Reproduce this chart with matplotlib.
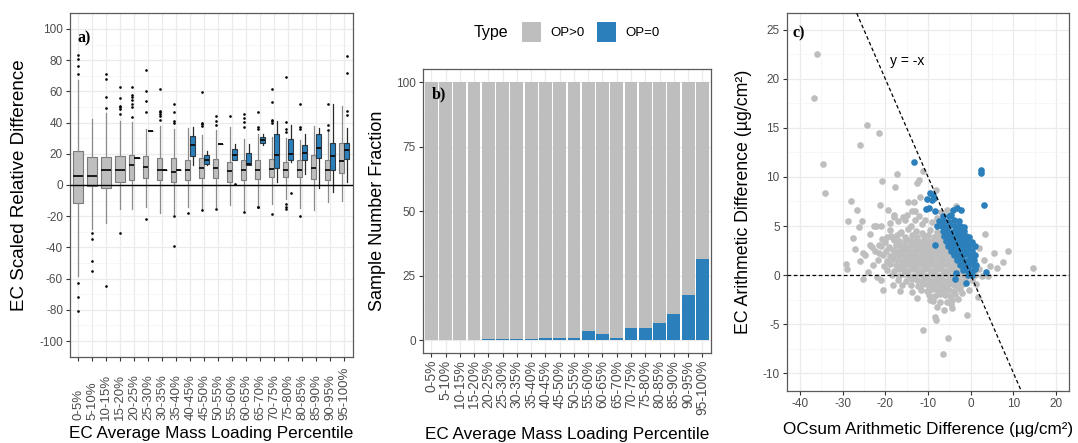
import matplotlib
matplotlib.use('Agg')
import matplotlib.pyplot as plt
from matplotlib.patches import Rectangle

plt.rcParams['font.family'] = ['Liberation Sans', 'DejaVu Sans']
plt.rcParams['axes.unicode_minus'] = False

GRAY = '#BEBEBE'
BLUE = '#2B80BB'

# percentile bins (shared by panels a and b)
bins = ['0-5%', '5-10%', '10-15%', '15-20%', '20-25%', '25-30%', '30-35%',
        '35-40%', '40-45%', '45-50%', '50-55%', '55-60%', '60-65%', '65-70%',
        '70-75%', '75-80%', '80-85%', '85-90%', '90-95%', '95-100%']

# panel a, OP>0 boxes: q1, median, q3, lower whisker, upper whisker
gray_q1 = [-11.3, -0.8, -2.0, 1.8, 2.9, 4.4, 3.3, 2.2, 3.4, 4.3,
           4.3, 1.7, 3.4, 3.9, 4.9, 4.9, 4.9, 3.9, 3.2, 7.5]
gray_med = [6.0, 5.6, 9.7, 9.7, 12.7, 11.4, 9.7, 8.5, 9.7, 11.2,
            11.0, 8.8, 9.7, 9.9, 10.3, 9.9, 9.9, 10.8, 9.7, 15.2]
gray_q3 = [22.0, 18.0, 18.0, 18.3, 19.4, 18.6, 17.6, 17.0, 16.3, 17.4,
           16.6, 14.6, 16.1, 15.7, 16.8, 14.6, 16.1, 19.4, 16.1, 27.0]
gray_lo = [-58.0, -28.0, -24.5, -15.3, -15.3, -14.2, -17.8, -18.5, -14.4, -15.5,
           -14.4, -13.0, -16.2, -13.0, -12.0, -9.0, -15.0, -16.0, -11.2, -10.1]
gray_hi = [67.0, 42.5, 46.0, 41.0, 40.2, 36.0, 38.0, 36.0, 36.6, 31.8,
           35.0, 37.2, 29.7, 32.9, 30.8, 30.0, 28.6, 38.0, 34.0, 50.5]
gray_out = [[83, 81, 76, 71, -63, -71.5, -81],
            [-30.5, -34.5, -48.5, -55],
            [71, 68, 56.6, 49.5, -64.6],
            [62.6, 55.5, 50.5, 49.7, 48.4, 45.4, -30.6],
            [62.6, 57.6, 56.6, 54.4, 51.8, 49.7, 43.4],
            [73.8, 60.2, 54, 46.5, -21.9],
            [61.3, 47.5, 46.9, 45.8, 44.1, 41.9],
            [51.6, 46.9, 40.9, 39.4, -19.8, -39.4],
            [-17.7],
            [59.8, 39.8, 38.9, 37.6, -15.9],
            [44.5, 41, 38.3, -15.5],
            [44.3],
            [45.8, 43.2, 40.4, 37.2, -17.2],
            [46.9, 37.2, 36.1, -14, -14.4],
            [61.3, 53.3, 41.9, 41, 39.8, -18.3],
            [69.5, 40.4, 36.1, 34, -12.3, -14.4, -15.1],
            [51.8, 37.2, 36.1, -19.8],
            [],
            [51.6, 38.3, 35.5],
            []]

# panel a, OP=0 boxes (bins 20-25% .. 95-100%)
blue_q1 = [17.6, 34.6, 9.7, 9.5, 18.7, 13.5, 26.5, 16.1, 12.5, 26.9, 11.0, 15.7, 15.7, 17.2, 9.7, 16.8]
blue_med = [17.6, 34.6, 9.7, 9.5, 25.4, 16.1, 26.5, 18.9, 13.5, 28.6, 19.4, 20.0, 20.6, 23.6, 18.5, 22.6]
blue_q3 = [17.6, 34.6, 9.7, 9.5, 31.4, 18.9, 26.5, 23.2, 20.4, 30.8, 32.4, 29.7, 25.4, 32.4, 26.8, 27.1]
blue_lo = [17.6, 34.6, 9.7, 9.5, 12.5, 12.5, 26.5, 16.1, 12.5, 25.8, 1.7, 15.0, 7.1, -2.2, -4.8, 1.7]
blue_hi = [17.6, 34.6, 9.7, 9.5, 37.2, 21.7, 26.5, 26.0, 26.5, 32.5, 41.0, 38.3, 32.5, 36.8, 51.6, 36.8]
blue_out = [[], [], [], [], [], [], [], [0.6], [], [], [], [-5.4], [], [], [], [82.8, 72, 47.5, 44.7]]

# panel b, percent of samples with OP=0
frac_op0 = [0, 0, 0, 0, 0.5, 0.5, 0.5, 0.5, 1.0, 1.0,
            1.0, 3.4, 2.4, 1.0, 4.8, 4.8, 6.7, 10.2, 17.5, 31.3]
frac_pos = [100 - v for v in frac_op0]

# panel c, (OCsum difference, EC difference) points
pts_pos = [
    (-36.7, 18.1), (-36.1, 22.5), (-34.7, 11.3), (-34.1, 8.4), (-24.2, 15.3), (-21.6, 14.5),
    (-25.9, 13.3), (-20.8, 9.6), (-17.3, 10.3), (-17.7, 9.0), (-28.0, 7.6), (-26.6, 6.6),
    (-21.2, 7.1), (-19.4, 6.6), (-14.6, 7.4), (-13.4, 7.4), (-12.7, 9.4), (-12.2, 9.7),
    (-11.2, 10.6), (-11.9, 8.0), (-8.1, 8.7), (-3.4, 7.0), (-13.7, 6.5), (-13.1, 6.5),
    (-18.0, 6.1), (-28.8, 5.5), (-25.5, 5.5), (-26.2, 4.9), (-27.6, 3.8), (-29.2, 1.1),
    (-28.9, 0.6), (-25.2, 2.2), (-24.7, 2.0), (-25.2, -0.4), (-23.2, 2.9), (-23.6, 3.1),
    (-22.7, 5.0), (-22.1, 5.0), (-21.1, 5.0), (-20.5, -1.5), (-21.1, -0.5), (-21.6, 3.1),
    (-20.9, 3.7), (-19.7, 3.9), (-18.3, -1.0), (-18.0, 5.9), (-15.8, 5.9), (-15.5, 5.6),
    (-15.0, 6.1), (-14.1, 5.0), (-16.6, 4.3), (-18.3, 3.8), (-14.0, -1.0), (-11.2, -5.6),
    (-8.9, -2.7), (-7.2, -2.8), (-8.4, -4.3), (-8.2, -4.6), (-5.4, -6.4), (-6.6, -8.1),
    (-0.8, -4.1), (-4.6, -3.0), (-4.3, -3.4), (-4.5, -2.5), (1.8, -2.2), (3.4, 4.2),
    (4.4, 0.9), (6.1, 0.7), (7.5, 1.3), (8.7, 2.4), (14.5, 0.7), (4.1, -0.1),
    (-10.8, 5.6), (-12.2, 6.0), (-9.0, 5.4), (-6.4, 6.1), (-5.5, 6.6), (-5.0, 5.2),
    (-3.8, 5.5), (-2.9, 4.8), (-2.0, 3.9), (-1.0, 3.2),
    (-27.0, 2.7), (-26.0, 1.4), (-24.0, 0.3), (-23.5, 4.2), (-22.0, -0.2), (-21.5, 2.2),
    (-19.0, 5.3), (-17.0, 5.5), (-13.0, 5.6), (-11.5, 5.2), (-8.0, 5.8), (-7.0, 6.4),
    (-9.5, -2.6), (-7.8, -3.3), (-6.2, -3.6), (-5.6, -2.8), (-3.0, -2.4), (-2.0, -1.8),
    (-0.5, -1.5), (1.2, -0.9), (3.0, 1.5), (2.0, 2.8), (5.5, 2.2), (-16.5, -1.6),
    (-13.8, -1.7), (-12.7, -2.3),
    (-19.0, 4.6), (-16.4, 4.4), (-14.8, 4.7), (-12.9, 4.5), (-11.3, 4.3), (-9.6, 4.6),
    (-7.8, 4.4), (-6.1, 4.7),
    (-18.6, 4.0), (-17.2, 4.1), (-15.5, 3.9), (-13.8, 4.1), (-12.5, 3.9), (-11.0, 4.0),
    (-9.9, 4.1), (-8.7, 3.9), (-7.2, 4.0), (-5.5, 4.1), (-3.9, 3.8),
    (-20.1, 3.4), (-18.0, 3.6), (-16.7, 3.5), (-15.3, 3.4), (-14.2, 3.6), (-13.1, 3.5),
    (-12.0, 3.4), (-10.9, 3.6), (-9.8, 3.5), (-8.6, 3.4), (-7.5, 3.6), (-6.4, 3.5),
    (-5.2, 3.3), (-3.8, 3.6),
    (-21.0, 3.0), (-19.2, 2.9), (-17.6, 3.1), (-16.3, 3.0), (-15.2, 2.9), (-14.1, 3.1),
    (-13.0, 3.0), (-12.0, 2.9), (-11.0, 3.1), (-10.0, 3.0), (-9.0, 2.9), (-8.0, 3.1),
    (-7.0, 3.0), (-6.0, 2.9), (-4.9, 3.1), (-3.6, 2.9),
    (-22.4, 2.5), (-19.8, 2.4), (-18.3, 2.6), (-17.1, 2.5), (-16.0, 2.4), (-15.0, 2.6),
    (-14.0, 2.5), (-13.0, 2.4), (-12.0, 2.6), (-11.0, 2.5), (-10.0, 2.4), (-9.0, 2.6),
    (-8.0, 2.5), (-7.0, 2.4), (-6.0, 2.6), (-5.0, 2.5), (-4.0, 2.4), (-2.8, 2.6),
    (-20.6, 2.0), (-19.0, 1.9), (-17.8, 2.1), (-16.7, 2.0), (-15.6, 1.9), (-14.5, 2.1),
    (-13.5, 2.0), (-12.5, 1.9), (-11.5, 2.1), (-10.5, 2.0), (-9.5, 1.9), (-8.5, 2.1),
    (-7.5, 2.0), (-6.5, 1.9), (-5.5, 2.1), (-4.5, 2.0), (-3.5, 1.9), (-2.4, 2.1), (-1.2, 2.0),
    (-21.8, 1.5), (-19.5, 1.4), (-18.2, 1.6), (-17.1, 1.5), (-16.0, 1.4), (-15.0, 1.6),
    (-14.0, 1.5), (-13.0, 1.4), (-12.0, 1.6), (-11.0, 1.5), (-10.0, 1.4), (-9.0, 1.6),
    (-8.0, 1.5), (-7.0, 1.4), (-6.0, 1.6), (-5.0, 1.5), (-4.0, 1.4), (-3.0, 1.6),
    (-2.0, 1.5), (-0.8, 1.4),
    (-22.9, 1.0), (-20.2, 0.9), (-18.8, 1.1), (-17.5, 1.0), (-16.4, 0.9), (-15.4, 1.1),
    (-14.4, 1.0), (-13.4, 0.9), (-12.4, 1.1), (-11.4, 1.0), (-10.4, 0.9), (-9.4, 1.1),
    (-8.4, 1.0), (-7.4, 0.9), (-6.4, 1.1), (-5.4, 1.0), (-4.4, 0.9), (-3.4, 1.1),
    (-2.4, 1.0), (-1.4, 0.9), (-0.3, 1.1), (0.8, 1.0),
    (-19.6, 0.5), (-17.9, 0.4), (-16.7, 0.6), (-15.6, 0.5), (-14.6, 0.4), (-13.6, 0.6),
    (-12.6, 0.5), (-11.6, 0.4), (-10.6, 0.6), (-9.6, 0.5), (-8.6, 0.4), (-7.6, 0.6),
    (-6.6, 0.5), (-5.6, 0.4), (-4.6, 0.6), (-3.6, 0.5), (-2.6, 0.4), (-1.6, 0.6),
    (-0.5, 0.5), (0.6, 0.4), (2.0, 0.6),
    (-18.5, 0.0), (-16.9, -0.1), (-15.7, 0.1), (-14.6, 0.0), (-13.5, -0.1), (-12.4, 0.1),
    (-11.4, 0.0), (-10.4, -0.1), (-9.4, 0.1), (-8.4, 0.0), (-7.4, -0.1), (-6.4, 0.1),
    (-5.4, 0.0), (-4.4, -0.1), (-3.4, 0.1), (-2.4, 0.0), (-1.4, -0.1), (-0.4, 0.1),
    (0.9, 0.0), (2.6, -0.1),
    (-17.0, -0.5), (-15.2, -0.6), (-13.8, -0.4), (-12.6, -0.5), (-11.5, -0.6), (-10.5, -0.4),
    (-9.5, -0.5), (-8.5, -0.6), (-7.5, -0.4), (-6.5, -0.5), (-5.5, -0.6), (-4.5, -0.4),
    (-3.5, -0.5), (-2.5, -0.6), (-1.4, -0.4), (0.2, -0.5),
    (-16.0, -1.0), (-12.3, -1.1), (-11.1, -0.9), (-10.0, -1.0), (-9.0, -1.1), (-8.0, -0.9),
    (-7.0, -1.0), (-6.0, -1.1), (-5.0, -0.9), (-4.0, -1.0), (-3.0, -1.1), (-1.8, -0.9),
    (-11.6, -1.5), (-10.2, -1.6), (-9.0, -1.4), (-8.0, -1.5), (-7.0, -1.6), (-6.0, -1.4),
    (-5.0, -1.5), (-3.9, -1.6), (-2.6, -1.4),
    (-9.8, -2.0), (-8.3, -2.1), (-7.1, -1.9), (-6.0, -2.0), (-4.9, -2.1), (-3.6, -1.9),
]
pts_zero = [
    (-13.4, 11.5), (2.5, 10.7), (2.5, 10.4), (3.0, 7.1), (-10.3, 7.8), (-9.6, 8.4),
    (-9.0, 7.7), (-8.8, 8.2), (-8.6, 7.9), (-10.5, 6.7), (-9.8, 6.8), (-8.4, 6.5),
    (-4.2, 6.6), (-3.3, 6.8), (-2.2, 6.6), (-8.4, 3.1), (-3.4, 0.2), (-3.6, -0.4),
    (-1.2, -0.8), (3.5, 0.3), (0.9, 3.0),
    (-6.5, 6.0), (-5.2, 6.0), (-4.6, 6.1),
    (-7.4, 5.5), (-6.2, 5.5), (-5.0, 5.4), (-3.9, 5.6), (-2.8, 5.5),
    (-7.8, 5.0), (-6.8, 5.0), (-5.8, 4.9), (-4.8, 5.1), (-3.8, 5.0), (-2.6, 5.0), (-1.6, 4.9),
    (-6.6, 4.5), (-5.6, 4.5), (-4.6, 4.4), (-3.6, 4.6), (-2.6, 4.5), (-1.6, 4.5),
    (-6.2, 4.0), (-5.2, 4.0), (-4.2, 3.9), (-3.2, 4.1), (-2.2, 4.0), (-1.2, 4.0), (-0.3, 3.9),
    (-5.8, 3.5), (-4.8, 3.5), (-3.8, 3.4), (-2.8, 3.6), (-1.8, 3.5), (-0.8, 3.5), (0.2, 3.4),
    (-5.4, 3.0), (-4.4, 3.0), (-3.4, 2.9), (-2.4, 3.1), (-1.4, 3.0), (-0.4, 3.0),
    (-4.6, 2.5), (-3.6, 2.5), (-2.6, 2.4), (-1.6, 2.6), (-0.6, 2.5), (0.4, 2.5),
    (-4.0, 2.0), (-3.0, 2.0), (-2.0, 1.9), (-1.0, 2.1), (0.0, 2.0), (1.0, 2.0),
    (-3.2, 1.5), (-2.2, 1.5), (-1.2, 1.4), (-0.2, 1.6), (0.8, 1.5),
    (-2.6, 1.0), (-1.6, 1.0), (-0.6, 0.9), (0.4, 1.1), (1.3, 1.0),
    (-1.8, 0.5), (-0.8, 0.5), (0.2, 0.4), (1.0, 0.6),
    (-0.6, 0.0), (0.4, 0.0),
]

fig = plt.figure(figsize=(10.78, 4.43), dpi=100)
ax_a = fig.add_axes([0.0649, 0.1948, 0.2622, 0.7752])
ax_b = fig.add_axes([0.3921, 0.2032, 0.2674, 0.6404])
ax_c = fig.add_axes([0.7298, 0.1181, 0.2622, 0.8519])


def style_axes(ax):
    ax.set_axisbelow(True)
    ax.grid(True, which='major', color='#EBEBEB', lw=0.9)
    ax.grid(True, which='minor', color='#F4F4F4', lw=0.5)
    for s in ax.spines.values():
        s.set_color('#5A5A5A')
        s.set_linewidth(0.9)
    ax.tick_params(which='major', length=3, width=0.8, color='#333333',
                   labelcolor='#4D4D4D', labelsize=8.5, pad=2)
    ax.tick_params(which='minor', length=0)


n = len(bins)

# ---- panel a: boxplots
gray_stats = []
for i in range(n):
    gray_stats.append({'q1': gray_q1[i], 'med': gray_med[i], 'q3': gray_q3[i],
                       'whislo': gray_lo[i], 'whishi': gray_hi[i], 'fliers': gray_out[i]})
gray_pos = [i if i < 4 else i - 0.19 for i in range(n)]
gray_w = [0.72 if i < 4 else 0.36 for i in range(n)]

blue_stats = []
for j in range(len(blue_q1)):
    blue_stats.append({'q1': blue_q1[j], 'med': blue_med[j], 'q3': blue_q3[j],
                       'whislo': blue_lo[j], 'whishi': blue_hi[j], 'fliers': blue_out[j]})
blue_pos = [j + 4 + 0.19 for j in range(len(blue_q1))]

flier_kw = dict(marker='o', markersize=1.9, markerfacecolor='black', markeredgecolor='none')
ax_a.bxp(gray_stats, positions=gray_pos, widths=gray_w, patch_artist=True, showcaps=False,
         boxprops=dict(facecolor=GRAY, edgecolor='#7A7A7A', lw=0.8),
         whiskerprops=dict(color='#8C8C8C', lw=0.9),
         medianprops=dict(color='#1A1A1A', lw=1.4),
         flierprops=flier_kw, zorder=2)
ax_a.bxp(blue_stats, positions=blue_pos, widths=0.36, patch_artist=True, showcaps=False,
         boxprops=dict(facecolor=BLUE, edgecolor='#2E3A44', lw=0.8),
         whiskerprops=dict(color='#2A2A2A', lw=0.9),
         medianprops=dict(color='#111111', lw=1.4),
         flierprops=flier_kw, zorder=2)
ax_a.axhline(0, color='black', lw=1.0, zorder=3)
ax_a.set_xlim(-0.6, n - 0.4)
ax_a.set_ylim(-110, 110)
ax_a.set_yticks(range(-100, 101, 20))
ax_a.set_yticks(range(-110, 111, 20), minor=True)
ax_a.set_xticks(range(n))
ax_a.set_xticklabels([''] * n)
style_axes(ax_a)
for i, lab in enumerate(bins):
    ax_a.text(i, -0.184, lab, transform=ax_a.get_xaxis_transform(), rotation=90,
              ha='center', va='bottom', fontsize=9.5, color='#4D4D4D')
ax_a.set_ylabel('EC Scaled Relative Difference', fontsize=13.5)
ax_a.yaxis.set_label_coords(-0.148, 0.5)
ax_a.set_xlabel('EC Average Mass Loading Percentile', fontsize=12.3)
ax_a.xaxis.set_label_coords(0.5, -0.202)
ax_a.text(0.028, 0.951, 'a)', transform=ax_a.transAxes, family='Liberation Serif',
          fontweight='bold', fontsize=11.5, va='top', ha='left')

# ---- panel b: stacked fractions
x = list(range(n))
ax_b.bar(x, frac_op0, width=0.9, color=BLUE, zorder=2)
ax_b.bar(x, frac_pos, bottom=frac_op0, width=0.9, color=GRAY, zorder=2)
ax_b.set_xlim(-0.6, n - 0.4)
ax_b.set_ylim(-5, 105)
ax_b.set_yticks([0, 25, 50, 75, 100])
ax_b.set_yticks([12.5, 37.5, 62.5, 87.5], minor=True)
ax_b.set_xticks(x)
ax_b.set_xticklabels(bins, rotation=90)
style_axes(ax_b)
ax_b.tick_params(axis='x', labelsize=10)
ax_b.set_ylabel('Sample Number Fraction', fontsize=13)
ax_b.yaxis.set_label_coords(-0.127, 0.5)
ax_b.set_xlabel('EC Average Mass Loading Percentile', fontsize=12.3)
ax_b.xaxis.set_label_coords(0.5, -0.262)
ax_b.text(0.032, 0.938, 'b)', transform=ax_b.transAxes, family='Liberation Serif',
          fontweight='bold', fontsize=11.5, va='top', ha='left', zorder=5)

# ---- panel c: scatter
ax_c.scatter([p[0] for p in pts_pos], [p[1] for p in pts_pos], s=23, color=GRAY,
             linewidths=0, zorder=2)
ax_c.scatter([p[0] for p in pts_zero], [p[1] for p in pts_zero], s=23, color=BLUE,
             linewidths=0, zorder=3)
ax_c.axhline(0, color='black', lw=0.9, ls=(0, (3, 2)), zorder=4)
ax_c.axline((0, 0), slope=-1, color='black', lw=0.9, ls=(0, (3, 2)), zorder=4)
ax_c.text(-15, 21.8, 'y = -x', fontsize=10, ha='center', va='center')
ax_c.set_xlim(-43.1, 23.1)
ax_c.set_ylim(-11.8, 26.7)
ax_c.set_xticks(range(-40, 21, 10))
ax_c.set_xticks(range(-35, 21, 10), minor=True)
ax_c.set_yticks(range(-10, 26, 5))
ax_c.set_yticks([-7.5, -2.5, 2.5, 7.5, 12.5, 17.5, 22.5], minor=True)
style_axes(ax_c)
ax_c.set_ylabel('EC Arithmetic Difference (µg/cm²)', fontsize=12.8)
ax_c.yaxis.set_label_coords(-0.123, 0.5)
ax_c.set_xlabel('OCsum Arithmetic Difference (µg/cm²)', fontsize=12.3)
ax_c.xaxis.set_label_coords(0.5, -0.083)
ax_c.text(0.022, 0.969, 'c)', transform=ax_c.transAxes, family='Liberation Serif',
          fontweight='bold', fontsize=11.5, va='top', ha='left')

# ---- legend (top of panel b)
fig.text(491 / 1078, 1 - 33 / 443, 'Type', fontsize=11.5, ha='center', va='center')
for x0, col, lab in [(521.7, GRAY, 'OP>0'), (596.7, BLUE, 'OP=0')]:
    fig.patches.append(Rectangle((x0 / 1078, 1 - 42 / 443), 19.5 / 1078, 19.5 / 443,
                                 transform=fig.transFigure, facecolor=col, edgecolor='none'))
    fig.text((x0 + 29) / 1078, 1 - 33 / 443, lab, fontsize=9.5, ha='left', va='center')

fig.savefig('out.png', dpi=100)
